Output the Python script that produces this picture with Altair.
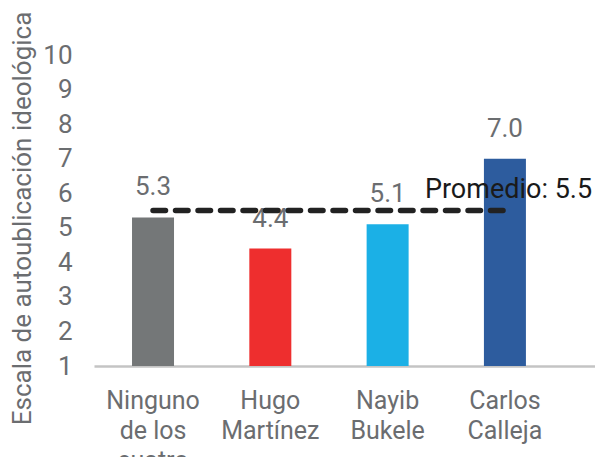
import altair as alt
import pandas as pd

categories = ["Ninguno de los cuatro", "Hugo Martínez", "Nayib Bukele", "Carlos Calleja"]
values = [5.3, 4.4, 5.1, 7.0]
colors = ["#747778", "#EE2E2E", "#1BB0E6", "#2D5C9E"]
average = 5.5
y_ticks = [1, 2, 3, 4, 5, 6, 7, 8, 9, 10]

df = pd.DataFrame({"cat": categories, "val": values, "color": colors})
avg_df = pd.DataFrame({"cat": [categories[0], categories[-1]], "val": [average, average]})
avg_lbl = pd.DataFrame({"cat": [categories[-1]], "val": [average],
                        "txt": [f"Promedio: {average:.1f}"]})

FONT = "Roboto"
GRAY = "#6B6D70"

xscale = alt.Scale(domain=categories, paddingInner=0.642, paddingOuter=0.4565, align=0.355)
yscale = alt.Scale(domain=[1, 10], nice=False, zero=False)

label_expr = ("datum.label == 'Ninguno de los cuatro' ? ['Ninguno','de los','cuatro'] : "
              "split(datum.label, ' ')")

x_axis = alt.Axis(labelExpr=label_expr, labelAngle=0, ticks=False,
                  labelPadding=22, labelFontSize=25, labelFont=FONT,
                  labelColor=GRAY, labelLineHeight=30, domainColor="#C4C4C4",
                  domainWidth=2.5, labelBaseline="top")
y_axis = alt.Axis(values=y_ticks, grid=False, domain=False, ticks=False,
                  labelOverlap=False, labelBound=False,
                  labelPadding=22, labelFontSize=26, labelFont=FONT,
                  labelColor=GRAY, titleFontSize=26, titleFont=FONT,
                  titleColor=GRAY, titleFontWeight="normal", titlePadding=7,
                  titleY=163)

xs = alt.X("cat:N", scale=xscale, sort=categories, title=None, axis=x_axis)
ys = alt.Y("val:Q", scale=yscale, title="Escala de autoublicación ideológica", axis=y_axis)

bars = alt.Chart(df).mark_bar().encode(
    x=xs, y=ys, y2=alt.datum(1),
    color=alt.Color("color:N", scale=None),
)

texts = alt.Chart(df).mark_text(font=FONT, fontSize=26, color=GRAY, dy=-22,
                                baseline="alphabetic").encode(
    x=xs, y=ys,
    text=alt.Text("val:Q", format=".1f"),
)

avg_line = alt.Chart(avg_df).mark_line(color="#222222", strokeWidth=5.5, strokeDash=[12.5, 10],
                                       strokeCap="round").encode(
    x=xs, y=ys,
)

avg_text = alt.Chart(avg_lbl).mark_text(font=FONT, fontSize=27, color="#1A1A1A", align="left",
                                        baseline="middle", dx=-80, dy=-21).encode(
    x=xs, y=ys,
    text="txt:N",
)

chart = alt.layer(bars, texts, avg_line, avg_text).properties(
    width=501, height=311,
    autosize=alt.AutoSizeParams(type="none"),
    padding={"left": 86, "top": 47, "right": 0, "bottom": 100},
).configure_view(stroke=None).configure_axis(labelOverlap=False)

chart.save("out.html", embed_options={"renderer": "svg", "actions": False})
